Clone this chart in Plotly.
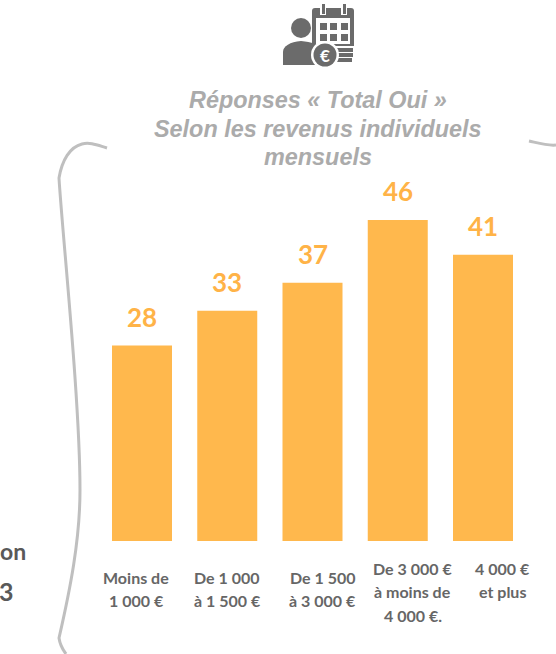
import plotly.graph_objects as go

categories = ["Moins de<br>1 000 €", "De 1 000<br>à 1 500 €", "De 1 500<br>à 3 000 €",
              "De 3 000 €<br>à moins de<br>4 000 €.", "4 000 €<br>et plus"]
values = [28, 33, 37, 46, 41]
label_dx = [-6, 0, 10, 15, 19]
label_py = [577, 577, 577, 568, 568]
title_lines = ["Réponses « Total Oui »", "Selon les revenus individuels", "mensuels"]
title_py = [100, 129, 157]
W, H = 556, 654
BAR = "#FFB84D"
GREY = "#BFBFBF"
DARK = "#666666"
ICON = "#6B6B6B"

def px(x): return x / W
def py(y): return 1 - y / H

fig = go.Figure(go.Bar(
    x=list(range(5)), y=values, width=60 / 85.25,
    marker=dict(color=BAR, line=dict(width=0)),
))

ann = []
for i, v in enumerate(values):
    ann.append(dict(x=i, y=v, xref="x", yref="y", yshift=11, text=f"<b>{v}</b>", showarrow=False,
                    xanchor="center", yanchor="bottom",
                    font=dict(family="Lato", size=26, color="#FFB347")))
for i, c in enumerate(categories):
    for j, line in enumerate(c.split("<br>")):
        ann.append(dict(x=i, y=py(label_py[i] + 23.5 * j), xref="x", yref="paper", xshift=label_dx[i],
                        text=f"<b>{line}</b>", showarrow=False, xanchor="center", yanchor="middle",
                        font=dict(family="Lato", size=16, color=DARK)))
for t, y in zip(title_lines, title_py):
    ann.append(dict(x=px(318), y=py(y), xref="paper", yref="paper", text=f"<b><i>{t}</i></b>",
                    showarrow=False, xanchor="center", yanchor="middle",
                    font=dict(family="Liberation Sans", size=23.4, color="#ABABAB")))
ann.append(dict(x=px(28), y=py(551), xref="paper", yref="paper", text="<b>on</b>", showarrow=False,
                xanchor="right", yanchor="middle", font=dict(family="Lato", size=23, color="#595959")))
ann.append(dict(x=px(16), y=py(591), xref="paper", yref="paper", text="<b>3</b>", showarrow=False,
                xanchor="right", yanchor="middle", font=dict(family="Lato", size=25, color="#595959")))
ann.append(dict(x=px(325), y=py(55), xref="paper", yref="paper", text="<b>€</b>", showarrow=False,
                xanchor="center", yanchor="middle", font=dict(family="Lato", size=17, color="white")))

def P(s):
    out = []
    for tok in s.split():
        if "," in tok:
            a, b = tok.split(",")
            out.append(f"{px(float(a)):.5f},{py(float(b)):.5f}")
        else:
            out.append(tok)
    return " ".join(out)

def shape_path(s, **kw):
    return dict(type="path", xref="paper", yref="paper", path=P(s), **kw)

def rect(x0, y0, x1, y1, color):
    return dict(type="rect", xref="paper", yref="paper", x0=px(x0), x1=px(x1), y0=py(y1), y1=py(y0),
                fillcolor=color, line=dict(width=0))

def circ(cx, cy, r, color):
    return dict(type="circle", xref="paper", yref="paper", x0=px(cx - r), x1=px(cx + r), y0=py(cy + r), y1=py(cy - r),
                fillcolor=color, line=dict(width=0))

shapes = [
    shape_path("M 107,148 C 97,145 90,142 82,144 C 70,147 62,160 59,178 C 62,230 80,400 80,490 C 80,540 70,590 59,638 C 60,645 63,650 66,654",
               line=dict(color=GREY, width=3)),
    shape_path("M 529,141 C 538,143 548,146 556,145", line=dict(color=GREY, width=3)),
    shape_path("M 315,8 L 351,8 Q 354,8 354,11 L 354,46 L 312,46 L 312,11 Q 312,8 315,8 Z", fillcolor=ICON, line=dict(width=0)),
    rect(316, 18, 350, 44, "white"),
]
for x in (320, 330, 341):
    for y in (23, 34):
        shapes.append(rect(x, y, x + 7, y + 7, ICON))
shapes += [
    rect(320, 3, 326, 15, "white"), rect(341, 3, 347, 15, "white"),
    rect(322, 4, 325, 14, ICON), rect(343, 4, 346, 14, ICON),
    rect(335, 48, 353, 52, ICON), rect(335, 53, 353, 57, ICON), rect(335, 58, 352, 62, ICON),
    circ(301, 28, 10, ICON),
    shape_path("M 283,65 L 283,52 C 283,46 290,42 301,41 C 312,42 318,44 320,49 L 320,65 Z", fillcolor=ICON, line=dict(width=0)),
    circ(325, 55, 14, "white"),
    circ(325, 55, 11.5, ICON),
]

fig.update_layout(
    width=W, height=H, margin=dict(l=0, r=0, t=0, b=0),
    paper_bgcolor="white", plot_bgcolor="white", showlegend=False,
    xaxis=dict(range=[-142 / 85.25, (W - 142) / 85.25], visible=False),
    yaxis=dict(range=[-(H - 541) / 6.98, 541 / 6.98], visible=False),
    annotations=ann, shapes=shapes,
)
fig.write_html("out.html", config={"displayModeBar": False},
               post_script="document.body.style.margin='0';document.documentElement.style.overflow='hidden';")
